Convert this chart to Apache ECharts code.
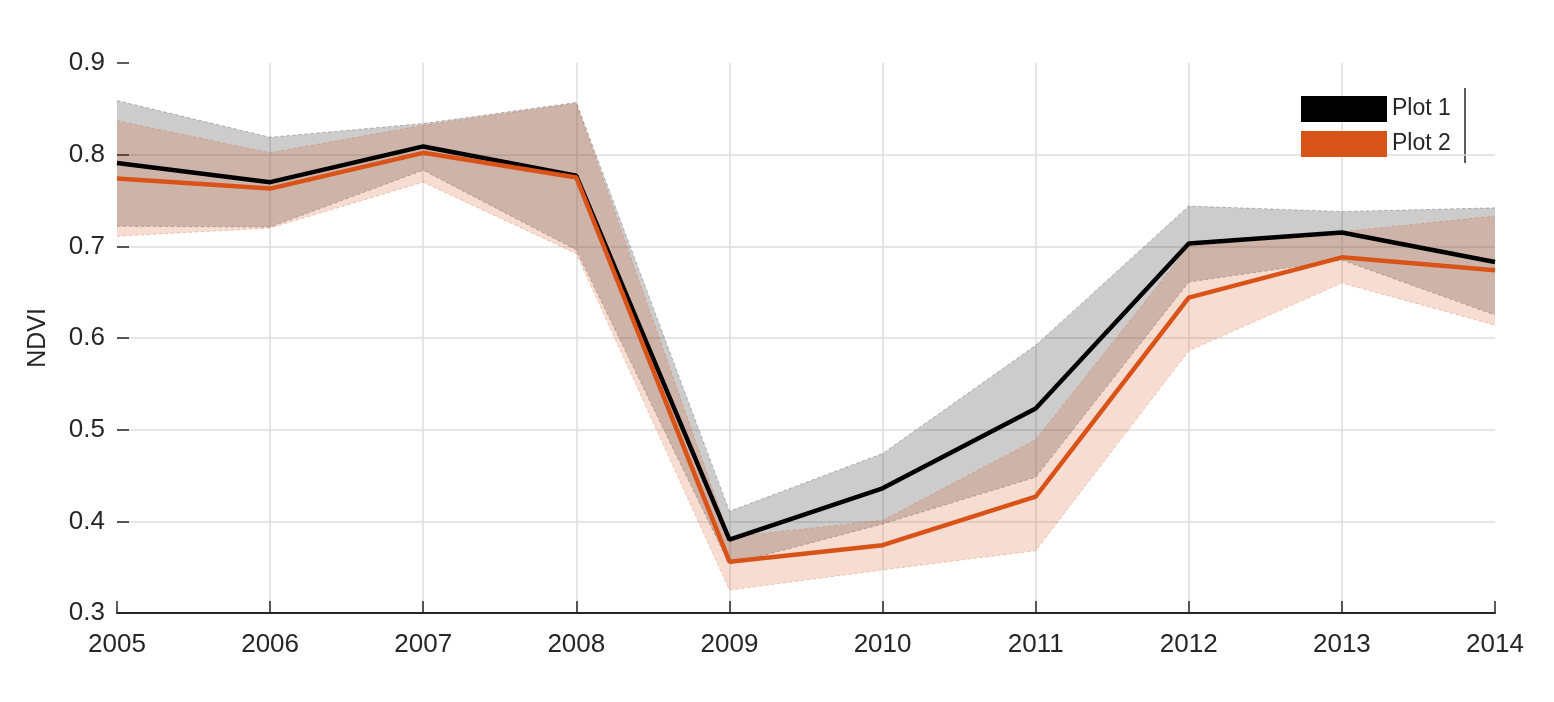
<!DOCTYPE html>
<html>
<head>
<meta charset="utf-8">
<script src="https://cdn.jsdelivr.net/npm/echarts@6/dist/echarts.min.js"></script>
<style>html,body{margin:0;padding:0;background:#fff;}#chart{width:1554px;height:702px;}</style>
</head>
<body>
<div id="chart"></div>
<script>
var years = ['2005','2006','2007','2008','2009','2010','2011','2012','2013','2014'];
var plot1Mean  = [0.791,0.770,0.809,0.777,0.380,0.436,0.523,0.703,0.715,0.683];
var plot1Upper = [0.859,0.819,0.834,0.857,0.411,0.474,0.592,0.744,0.738,0.742];
var plot1Lower = [0.722,0.721,0.783,0.696,0.353,0.397,0.448,0.661,0.685,0.625];
var plot2Mean  = [0.774,0.763,0.802,0.775,0.356,0.374,0.427,0.644,0.688,0.674];
var plot2Upper = [0.837,0.802,0.832,0.856,0.383,0.401,0.489,0.700,0.716,0.733];
var plot2Lower = [0.711,0.720,0.770,0.692,0.325,0.347,0.368,0.586,0.660,0.614];
var yTicks = [0.3,0.4,0.5,0.6,0.7,0.8,0.9];

function diff(a,b){return a.map(function(v,i){return +(v-b[i]).toFixed(4);});}

var FONT = 'Liberation Sans';
var TXT = '#262626';
var chart = echarts.init(document.getElementById('chart'), null, {renderer:'canvas'});
chart.setOption({
  animation:false,
  backgroundColor:'#ffffff',
  grid:{left:117, right:59, top:63, bottom:89, containLabel:false},
  legend:{
    orient:'vertical', left:1301, top:96, padding:0, itemGap:9,
    itemWidth:86, itemHeight:26, icon:'rect',
    textStyle:{fontFamily:FONT, fontSize:23, color:TXT},
    data:[{name:'Plot 1', itemStyle:{color:'#000000'}},{name:'Plot 2', itemStyle:{color:'#D95319'}}]
  },
  graphic:[{type:'line', shape:{x1:1465,y1:88,x2:1465,y2:163}, style:{stroke:TXT, lineWidth:1.5}}],
  xAxis:{
    type:'category', data:years, boundaryGap:false,
    axisLine:{show:true, lineStyle:{color:TXT, width:2}},
    axisTick:{show:true, inside:true, length:12, alignWithLabel:true, lineStyle:{color:TXT, width:1.5}},
    axisLabel:{fontFamily:FONT, fontSize:26, color:TXT, margin:19},
    splitLine:{show:true, showMinLine:false, showMaxLine:false, lineStyle:{color:'#dedede', width:1.5}}
  },
  yAxis:{
    type:'value', min:yTicks[0], max:yTicks[yTicks.length-1], interval:0.1,
    name:'NDVI', nameLocation:'middle', nameRotate:90, nameGap:66,
    nameTextStyle:{fontFamily:FONT, fontSize:25, color:TXT},
    axisLine:{show:false},
    axisTick:{show:true, inside:true, length:12, lineStyle:{color:TXT, width:1.5}},
    axisLabel:{fontFamily:FONT, fontSize:26, color:TXT, margin:12, formatter:function(v){return v.toFixed(1);}},
    splitLine:{show:true, showMinLine:false, showMaxLine:false, lineStyle:{color:'#dedede', width:1.5}}
  },
  series:[
    {name:'p1lo', type:'line', stack:'b1', data:plot1Lower, symbol:'none', silent:true,
     lineStyle:{color:'rgba(0,0,0,0.25)', width:1, type:[3,3]}, z:2},
    {name:'p1band', type:'line', stack:'b1', data:diff(plot1Upper,plot1Lower), symbol:'none', silent:true,
     lineStyle:{color:'rgba(0,0,0,0.25)', width:1, type:[3,3]},
     areaStyle:{color:'rgba(0,0,0,0.2)', opacity:1}, z:2},
    {name:'p2lo', type:'line', stack:'b2', data:plot2Lower, symbol:'none', silent:true,
     lineStyle:{color:'rgba(217,83,25,0.3)', width:1, type:[3,3]}, z:3},
    {name:'p2band', type:'line', stack:'b2', data:diff(plot2Upper,plot2Lower), symbol:'none', silent:true,
     lineStyle:{color:'rgba(217,83,25,0.3)', width:1, type:[3,3]},
     areaStyle:{color:'rgba(217,83,25,0.2)', opacity:1}, z:3},
    {name:'Plot 1', type:'line', data:plot1Mean, symbol:'none', color:'#000000',
     lineStyle:{color:'#000000', width:4.5}, z:4},
    {name:'Plot 2', type:'line', data:plot2Mean, symbol:'none', color:'#D95319',
     lineStyle:{color:'#D95319', width:4.5}, z:5}
  ]
});
</script>
</body>
</html>
